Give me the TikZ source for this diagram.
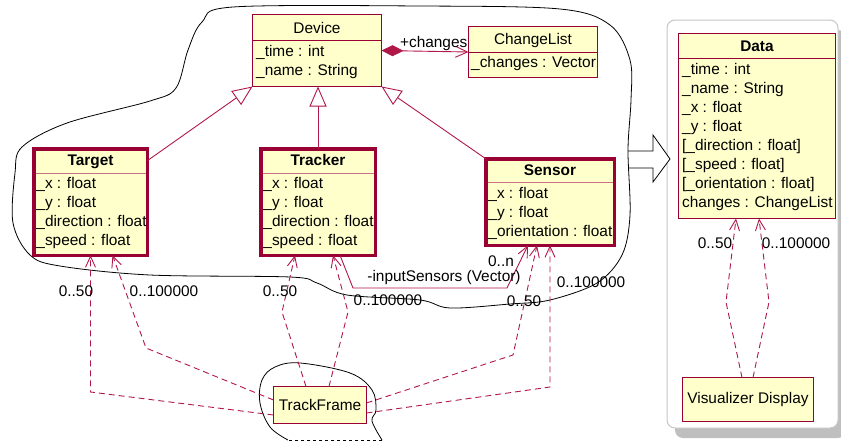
\documentclass[tikz,border=0pt]{standalone}
\usepackage{fontspec}
\setmainfont{Liberation Sans}
\usetikzlibrary{arrows.meta, positioning, shadows, calc}
\definecolor{umlfill}{HTML}{FFFFCC}
\definecolor{umlred}{HTML}{990033}
\definecolor{umlline}{HTML}{B01848}
\definecolor{umldiv}{HTML}{CC7088}
\begin{document}
\begin{tikzpicture}[x=1pt, y=-1pt,
    every node/.style={font=\fontsize{15.4}{19}\selectfont},
    cls/.style={rectangle, draw=umlred, fill=umlfill, line width=#1, inner sep=0pt, outer sep=0pt},
    cls/.default={1pt},
    ttl/.style={inner sep=0pt, text height=11pt, text depth=0pt},
    bold/.style={font=\fontsize{15.4}{19}\selectfont\bfseries},
    attrs/.style={inner sep=0pt, align=left, anchor=north west},
    divl/.style={draw=#1, line width=1pt},
    divl/.default={umlred},
    panel/.style={rectangle, draw=gray!45, fill=white, rounded corners=8pt, line width=1pt, drop shadow={shadow xshift=8pt, shadow yshift=-10pt, fill=gray!50, opacity=1}},
    dep/.style={draw=umlline, line width=0.9pt, dash pattern=on 6pt off 4pt, -{Straight Barb[length=11pt, width=10pt]}},
    gen/.style={draw=umlline, line width=0.9pt, -{Triangle[open, length=20pt, width=17pt, fill=white]}},
    comp/.style={draw=umlline, line width=0.9pt, {Diamond[length=22pt, width=11pt]}-{Straight Barb[length=12pt, width=11pt]}},
    assoc/.style={draw=umlline, line width=0.9pt, -{Straight Barb[length=11pt, width=10pt]}},
    mult/.style={inner sep=0pt},
    outline/.style={draw=black, line width=0.8pt}
]
\useasboundingbox (0,0) rectangle (841,442);

% === DATA PANEL ===
\node[panel, minimum width=171pt, minimum height=408pt] (panel) at (752.5,224) {};

% === CLASSES ===
\node[cls, minimum width=129pt, minimum height=72pt] (device) at (317,50.5) {};
\node[ttl] (device-t) at ([yshift=-13pt]device.north) {Device};
\draw[divl] ([yshift=-25.5pt]device.north west) -- ([yshift=-25.5pt]device.north east);
\node[attrs] (device-a) at ([xshift=3.5pt, yshift=-31pt]device.north west) {\_time : int\\\_name : String};

\node[cls, minimum width=129pt, minimum height=51pt] (changelist) at (533,52) {};
\node[ttl] (changelist-t) at ([yshift=-12.5pt]changelist.north) {ChangeList};
\draw[divl] ([yshift=-25.5pt]changelist.north west) -- ([yshift=-25.5pt]changelist.north east);
\node[attrs] (changelist-a) at ([xshift=2.5pt, yshift=-30pt]changelist.north west) {\_changes : Vector};

\node[cls=3.5pt, minimum width=113.5pt, minimum height=106.5pt] (target) at (90.5,202) {};
\node[ttl, bold] (target-t) at ([yshift=-11.5pt]target.north) {Target};
\draw[divl=umldiv] ([xshift=1.75pt, yshift=-24.25pt]target.north west) -- ([xshift=-1.75pt, yshift=-24.25pt]target.north east);
\node[attrs] (target-a) at ([xshift=2.5pt, yshift=-28pt]target.north west) {\_x : float\\\_y : float\\\_direction : float\\\_speed : float};

\node[cls=3.5pt, minimum width=114.5pt, minimum height=106.5pt] (tracker) at (318,202) {};
\node[ttl, bold] (tracker-t) at ([yshift=-11.5pt]tracker.north) {Tracker};
\draw[divl=umldiv] ([xshift=1.75pt, yshift=-24.25pt]tracker.north west) -- ([xshift=-1.75pt, yshift=-24.25pt]tracker.north east);
\node[attrs] (tracker-a) at ([xshift=2.5pt, yshift=-28pt]tracker.north west) {\_x : float\\\_y : float\\\_direction : float\\\_speed : float};

\node[cls=3.5pt, minimum width=128.5pt, minimum height=86.5pt] (sensor) at (550,202) {};
\node[ttl, bold] (sensor-t) at ([yshift=-11.5pt]sensor.north) {Sensor};
\draw[divl=umldiv] ([xshift=1.75pt, yshift=-23.25pt]sensor.north west) -- ([xshift=-1.75pt, yshift=-23.25pt]sensor.north east);
\node[attrs] (sensor-a) at ([xshift=2.5pt, yshift=-28pt]sensor.north west) {\_x : float\\\_y : float\\\_orientation : float};

\node[cls, minimum width=157pt, minimum height=185pt] (data) at (757,126) {};
\node[ttl, bold] (data-t) at ([yshift=-12.5pt]data.north) {Data};
\draw[divl] ([yshift=-24.5pt]data.north west) -- ([yshift=-24.5pt]data.north east);
\node[attrs] (data-a) at ([xshift=3.5pt, yshift=-30pt]data.north west) {\_time : int\\\_name : String\\\_x : float\\\_y : float\\{}[\_direction : float]\\{}[\_speed : float]\\{}[\_orientation : float]\\changes : ChangeList};

\node[cls, minimum width=131pt, minimum height=44pt] (visdisp) at (748,399.5) {Visualizer Display};
\node[cls, minimum width=93pt, minimum height=37pt] (trackframe) at (320,405) {TrackFrame};

% === BOUNDARIES ===
\draw[outline, fill=white] (628,151) -- (653,151) -- (653,135) -- (670,159) -- (653,182) -- (653,168) -- (628,168);
\draw[outline] plot[smooth cycle, tension=0.55] coordinates {(233,7) (420,6) (560,9) (610,25) (630,60) (631,100) (628,150) (630,215) (622,255) (597,283) (550,300) (510,304) (450,308) (420,300) (347,295) (317,283) (290,277) (150,275) (60,266) (30,255) (13,223) (15,173) (22,147) (67,123) (150,101) (176,88) (188,50) (202,22)};
\draw[outline] plot[smooth, tension=0.6] coordinates {(288,440) (270,427) (260,403) (262,380) (275,367) (300,363) (350,373) (372,390) (376,410) (372,421) (382,440)};
\draw[outline, dashed] (382,440) -- (288,440);

% === CONNECTORS ===
\draw[gen] ([yshift=-12pt]target.north east) -- (device.south west);
\draw[gen] (tracker.north) -- (tracker.north |- device.south);
\draw[gen] (sensor.north west) -- (device.south east);
\draw[comp] (device.east) -- node[above, mult, pos=0.6] (chg) {+changes} (changelist.west);

\draw[assoc] ([xshift=22pt]tracker.south) -- (353,288) -- (507,288) -- ([xshift=-22pt]sensor.south);
\node[mult] (insens) at (444,278) {-inputSensors (Vector)};
\node[mult] (m-0n) at (501,261) {0..n};

\draw[dep] ([yshift=-10pt]trackframe.west) -- (target.south |- 0,392) -- (target.south);
\draw[dep] ([yshift=5pt]trackframe.west) -- (146,348) -- ([xshift=22pt]target.south);
\draw[dep] ([xshift=-14pt]trackframe.north) -- (282,312) -- ([xshift=-23pt]tracker.south);
\draw[dep] ([xshift=9pt]trackframe.north) -- (348,312) -- ([xshift=15pt]tracker.south);
\draw[dep] ([yshift=2pt]trackframe.east) -- (513,355) -- ([xshift=-13pt]sensor.south);
\draw[dep] ([yshift=-8pt]trackframe.east) -- (sensor.south |- 0,387) -- (sensor.south);
\draw[dep] ([xshift=-6pt]visdisp.north) -- (726,302) -- ([xshift=-21pt]data.south);
\draw[dep] ([xshift=5pt]visdisp.north) -- (769,302) -- ([xshift=2pt]data.south);

% multiplicities
\node[mult] (m-tg50) at (76,291) {0..50};
\node[mult] (m-tg1e5) at (164,291) {0..100000};
\node[mult] (m-tr50) at (280,291) {0..50};
\node[mult] (m-tr1e5) at (388,300) {0..100000};
\node[mult] (m-se50) at (524,301) {0..50};
\node[mult] (m-se1e5) at (591,282) {0..100000};
\node[mult] (m-da50) at (715,243) {0..50};
\node[mult] (m-da1e5) at (796,243) {0..100000};

\end{tikzpicture}
\end{document}
